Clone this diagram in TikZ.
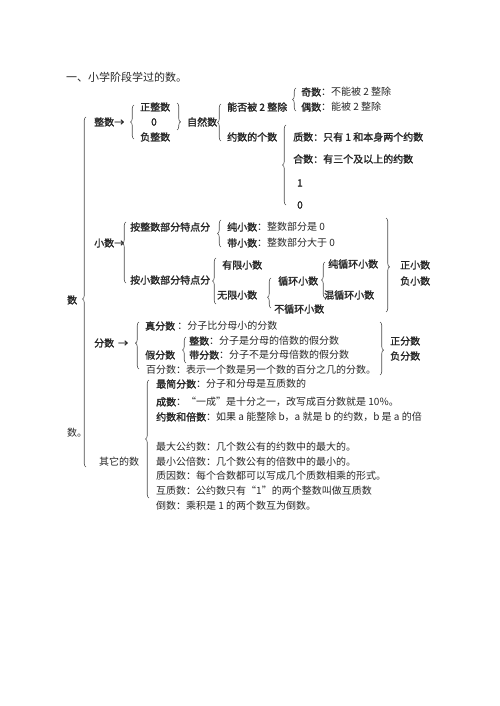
\documentclass[tikz,border=0pt]{standalone}
\usepackage{fontspec}
\setmainfont{Noto Sans CJK SC}[BoldFont=Noto Sans CJK SC,BoldFeatures={FakeBold=1.6}]
\usetikzlibrary{decorations.pathreplacing}
\tikzset{
  t/.style={anchor=west,inner sep=0pt,font=\fontsize{10bp}{12bp}\selectfont,text=black!85},
  tb/.style={t,font=\fontsize{10bp}{12bp}\selectfont\bfseries},
  br/.style={decorate,decoration={brace,amplitude=3.5bp,aspect=#1},draw=black!70,line width=0.6bp},
  br/.default=0.5
}
\begin{document}
\begin{tikzpicture}[x=1bp,y=-1bp]
\useasboundingbox (0,0) rectangle (500,706);
% title
\node[t,font=\fontsize{11bp}{13bp}\selectfont] (title) at (66,77) {一、小学阶段学过的数。};
% big brace
\node[tb] (shu) at (67,300) {数};
\node[t] (shudot) at (67,433) {数。};
\draw[br=0.48] (86,467) -- (86,117);
% integers
\node[tb] (zs) at (94,122) {整数→};
\draw[br] (134,139) -- (134,105);
\node[tb] (zzs) at (140,107) {正整数};
\node[tb] (zero) at (151,122) {0};
\node[tb] (fzs) at (140,137) {负整数};
\draw[br=0.7] (177,103) -- (177,130);
\node[tb] (zrs) at (187,122) {自然数};
\draw[br=0.5] (221,141) -- (221,104);
\node[tb] (nf) at (227,107) {能否被 2 整除};
\node[tb] (ys) at (227,137) {约数的个数};
\draw[br] (296,111) -- (296,88);
\node[t] (ji) at (301,92) {{\bfseries 奇数}：不能被 2 整除};
\node[t] (ou) at (301,107) {{\bfseries 偶数}：能被 2 整除};
\draw[br] (286,205) -- (286,125);
\node[tb] (zhi) at (293,137) {质数：只有 1 和本身两个约数};
\node[tb] (he) at (293,159) {合数：有三个及以上的约数};
\node[tb] (one) at (297,183) {1};
\node[tb] (zero2) at (297,205) {0};
% decimals
\node[tb] (xs) at (94,243) {小数→};
\draw[br=0.65] (126,283) -- (126,222);
\node[tb] (az) at (130,227) {按整数部分特点分};
\node[tb] (ax) at (130,280) {按小数部分特点分};
\draw[br] (221,247) -- (221,220);
\node[t] (cx) at (227,227) {{\bfseries 纯小数}：整数部分是 0};
\node[t] (dx) at (227,243) {{\bfseries 带小数}：整数部分大于 0};
\draw[br] (216,304) -- (216,258);
\node[tb] (yx) at (222,265) {有限小数};
\node[tb] (wx) at (217,295) {无限小数};
\draw[br=0.36] (271,308) -- (271,278);
\node[tb] (xh) at (278,281) {循环小数};
\node[tb] (bxh) at (274,309) {不循环小数};
\draw[br] (325,298) -- (325,262);
\node[tb] (cxh) at (328,264) {纯循环小数};
\node[tb] (hxh) at (324,295) {混循环小数};
\draw[br=0.52] (386,218) -- (386,312);
\node[tb] (zx) at (400,265) {正小数};
\node[tb] (fx) at (400,281) {负小数};
% fractions
\node[tb] (fs) at (94,343) {分数 \,→};
\draw[br=0.55] (139,369) -- (139,322);
\node[t] (zf) at (145,326) {{\bfseries 真分数} ：分子比分母小的分数};
\node[tb] (jf) at (145,355) {假分数};
\draw[br] (186,363) -- (186,337);
\node[t] (zsf) at (189,341) {{\bfseries 整数}：分子是分母的倍数的假分数};
\node[t] (dfs) at (189,355) {{\bfseries 带分数}：分子不是分母倍数的假分数};
\node[t] (bf) at (146,370) {百分数：表示一个数是另一个数的百分之几的分数。};
\draw[br=0.53] (380,322) -- (380,375);
\node[tb] (zfs) at (390,341) {正分数};
\node[tb] (ffs) at (390,356) {负分数};
% others
\node[t] (qt) at (99,462) {其它的数};
\draw[br] (149,498) -- (149,380);
\node[t] (o1) at (156,384) {{\bfseries 最简分数}：分子和分母是互质数的};
\node[t] (o2) at (156,402) {{\bfseries 成数}：“一成”是十分之一，改写成百分数就是 10\%。};
\node[t] (o3) at (156,417) {{\bfseries 约数和倍数}：如果 a 能整除 b，a 就是 b 的约数，b 是 a 的倍};
\node[t] (o4) at (156,447) {最大公约数：几个数公有的约数中的最大的。};
\node[t] (o5) at (156,462) {最小公倍数：几个数公有的倍数中的最小的。};
\node[t] (o6) at (156,476) {质因数：每个合数都可以写成几个质数相乘的形式。};
\node[t] (o7) at (156,491) {互质数：公约数只有“1”的两个整数叫做互质数};
\node[t] (o8) at (156,506) {倒数：乘积是 1 的两个数互为倒数。};
\end{tikzpicture}
\end{document}
